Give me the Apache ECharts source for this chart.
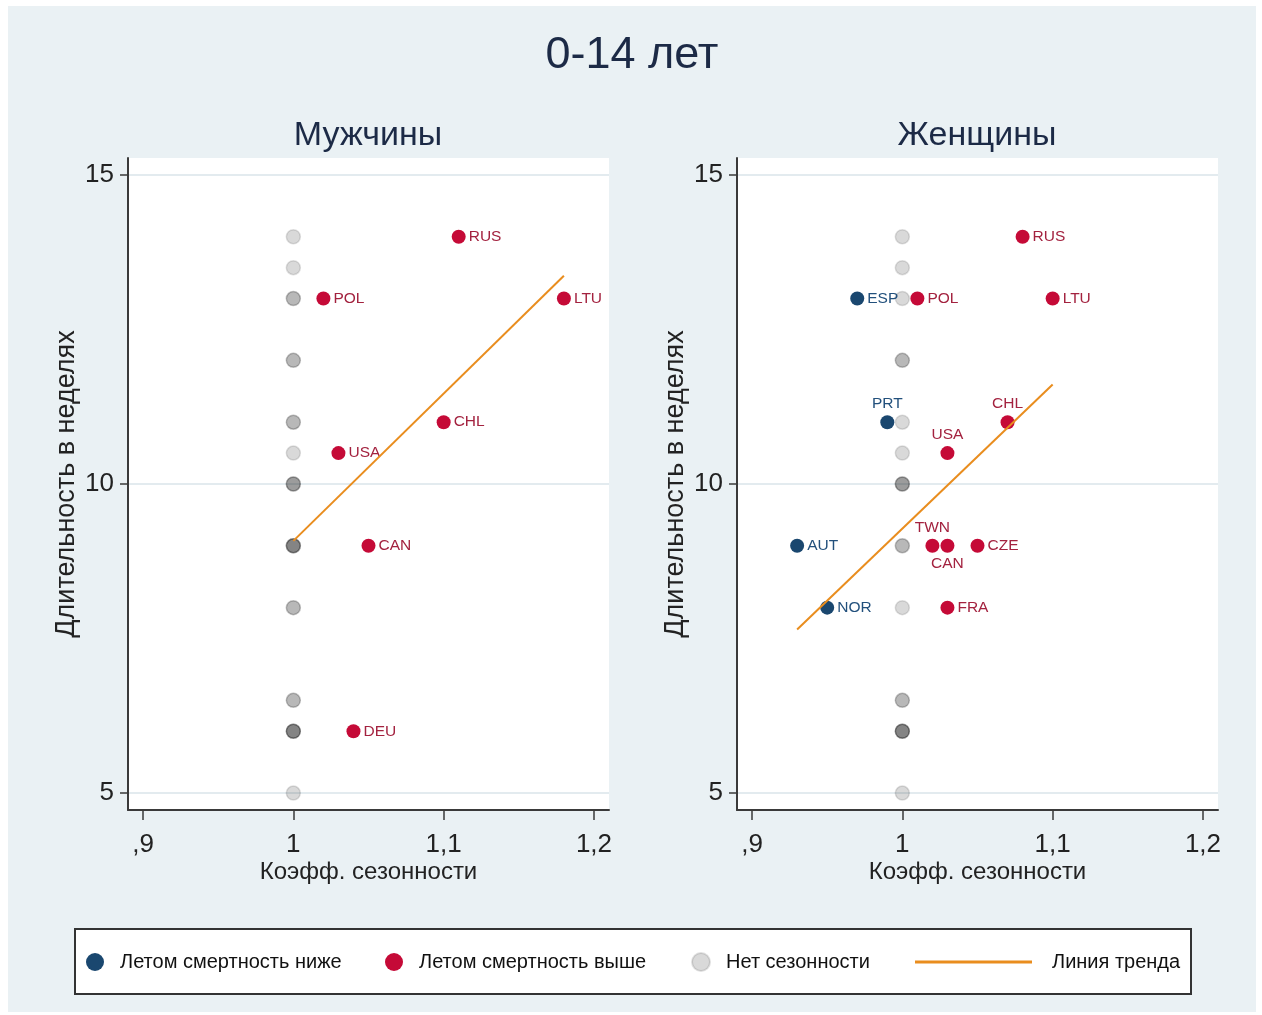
<!DOCTYPE html>
<html>
<head>
<meta charset="utf-8">
<script src="https://cdn.jsdelivr.net/npm/echarts@6/dist/echarts.min.js"></script>
<style>
  html, body { margin: 0; padding: 0; background: #ffffff; }
  #chart { width: 1262px; height: 1015px; }
</style>
</head>
<body>
<div id="chart"></div>
<script>
// Tick values and their printed labels (decimal comma, leading zero dropped)
const xTickValues = [0.9, 1.0, 1.1, 1.2];
const xTickLabels = [',9', '1', '1,1', '1,2'];
const yTickValues = [5, 10, 15];
const yTickLabels = ['5', '10', '15'];

// Men: countries with no seasonality (all at coefficient 1; repeats overlap)
const menNoneY = [14, 13.5, 13, 13, 12, 12, 11, 11, 10.5, 10, 10, 10, 9, 9, 9, 9, 8, 8, 6.5, 6.5, 6, 6, 6, 6, 5];
// Men: higher summer mortality
const menHighNames = ['RUS', 'POL', 'LTU', 'CHL', 'USA', 'CAN', 'DEU'];
const menHighX = [1.11, 1.02, 1.18, 1.10, 1.03, 1.05, 1.04];
const menHighY = [14, 13, 13, 11, 10.5, 9, 6];
// Men: trend line end points
const menTrendX = [1.0, 1.18];
const menTrendY = [9.08, 13.37];

// Women: no seasonality
const womenNoneY = [14, 13.5, 13, 12, 12, 11, 10.5, 10, 10, 10, 9, 9, 8, 6.5, 6.5, 6, 6, 6, 6, 5];
// Women: lower summer mortality
const womenLowNames = ['ESP', 'PRT', 'AUT', 'NOR'];
const womenLowX = [0.97, 0.99, 0.93, 0.95];
const womenLowY = [13, 11, 9, 8];
const womenLowPos = ['right', 'top', 'right', 'right'];
// Women: higher summer mortality
const womenHighNames = ['RUS', 'POL', 'LTU', 'CHL', 'USA', 'TWN', 'CAN', 'CZE', 'FRA'];
const womenHighX = [1.08, 1.01, 1.10, 1.07, 1.03, 1.02, 1.03, 1.05, 1.03];
const womenHighY = [14, 13, 13, 11, 10.5, 9, 9, 9, 8];
const womenHighPos = ['right', 'right', 'right', 'top', 'top', 'top', 'bottom', 'right', 'right'];
// Women: trend line end points
const womenTrendX = [0.93, 1.10];
const womenTrendY = [7.645, 11.61];

const LEG_LOW = 'Летом смертность ниже';
const LEG_HIGH = 'Летом смертность выше';
const LEG_NONE = 'Нет сезонности';
const LEG_TREND = 'Линия тренда';

const FONT = '"Liberation Sans Narrow", "Arial Narrow", "Liberation Sans", sans-serif';
const BLUE = '#1a476f';
const RED = '#c50a37';
const RED_TXT = '#a3223f';
const ORANGE = '#e98d1e';
const GREY = 'rgba(0,0,0,0.15)';

function pts(xs, ys, names, pos) {
  return ys.map((y, i) => {
    const d = { value: [xs[i], y] };
    if (names) d.name = names[i];
    if (pos && pos[i] !== 'right') d.label = { position: pos[i] };
    return d;
  });
}

function xAxis(gridIndex) {
  return {
    type: 'value', gridIndex, min: 0.89, max: 1.21,
    name: 'Коэфф. сезонности', nameLocation: 'middle', nameGap: 50, nameMoveOverlap: false,
    nameTextStyle: { fontFamily: FONT, fontSize: 24, color: '#222' },
    axisLine: { show: true, onZero: false, lineStyle: { color: '#3a3a3a', width: 2 } },
    axisTick: { show: true, length: 10, customValues: xTickValues, lineStyle: { color: '#3a3a3a', width: 1.5 } },
    axisLabel: {
      customValues: xTickValues, margin: 22, fontFamily: FONT, fontSize: 26, color: '#222',
      formatter: v => xTickLabels[xTickValues.findIndex(t => Math.abs(t - v) < 1e-6)]
    },
    splitLine: { show: false }
  };
}

function yAxis(gridIndex) {
  return {
    type: 'value', gridIndex, min: 4.726, max: 15.274,
    name: 'Длительность в неделях', nameLocation: 'middle', nameGap: 48,
    nameTextStyle: { fontFamily: FONT, fontSize: 27, color: '#222' },
    axisLine: { show: true, onZero: false, lineStyle: { color: '#3a3a3a', width: 2 } },
    axisTick: { show: true, length: 8, customValues: yTickValues, lineStyle: { color: '#3a3a3a', width: 1.5 } },
    axisLabel: {
      customValues: yTickValues, margin: 14, fontFamily: FONT, fontSize: 26, color: '#222',
      formatter: v => yTickLabels[yTickValues.findIndex(t => Math.abs(t - v) < 1e-6)]
    },
    splitLine: { show: true, lineStyle: { color: '#e3ebef', width: 2 } }
  };
}

function scatter(name, idx, data, color, labelColor, withLabel) {
  return {
    type: 'scatter', name, xAxisIndex: idx, yAxisIndex: idx,
    data, symbolSize: 14, z: 3,
    itemStyle: color === GREY
      ? { color: GREY, borderColor: 'rgba(0,0,0,0.12)', borderWidth: 1.5, opacity: 1 }
      : { color, opacity: 1 },
    label: withLabel ? {
      show: true, position: 'right', distance: 3, formatter: '{b}',
      fontFamily: FONT, fontSize: 15.5, color: labelColor
    } : { show: false },
    emphasis: { disabled: true }, silent: true
  };
}

function trend(idx, xs, ys) {
  return {
    type: 'line', name: LEG_TREND, xAxisIndex: idx, yAxisIndex: idx,
    data: xs.map((x, i) => [x, ys[i]]),
    showSymbol: false, symbol: 'none', color: ORANGE, z: 5,
    lineStyle: { color: ORANGE, width: 2 },
    emphasis: { disabled: true }, silent: true
  };
}

const ones = ys => ys.map(() => 1);

function legend(name, left, top, w, h, icon, pad) {
  return {
    data: [{ name, icon }], left, top, padding: 0,
    itemWidth: w, itemHeight: h, selectedMode: false,
    textStyle: { fontFamily: FONT, fontSize: 20, color: '#111', padding: pad || 0 }
  };
}

const chart = echarts.init(document.getElementById('chart'), null, { renderer: 'canvas' });
chart.setOption({
  animation: false,
  backgroundColor: '#ffffff',
  graphic: [
    { type: 'rect', z: -10, shape: { x: 8, y: 6, width: 1248, height: 1006 }, style: { fill: '#eaf1f4' } },
    { type: 'text', z: 10, x: 632, y: 56, style: { text: '0-14 лет', fontFamily: FONT, fontSize: 45, fill: '#1c2a46', align: 'center', verticalAlign: 'middle' } },
    { type: 'text', z: 10, x: 368, y: 136, style: { text: 'Мужчины', fontFamily: FONT, fontSize: 34, fill: '#1c2a46', align: 'center', verticalAlign: 'middle' } },
    { type: 'text', z: 10, x: 977, y: 136, style: { text: 'Женщины', fontFamily: FONT, fontSize: 34, fill: '#1c2a46', align: 'center', verticalAlign: 'middle' } },
    { type: 'rect', z: -5, shape: { x: 75, y: 929, width: 1116, height: 65 }, style: { fill: '#ffffff', stroke: '#333333', lineWidth: 2 } }
  ],
  grid: [
    { left: 128, top: 158, width: 481, height: 652, show: true, backgroundColor: '#ffffff', borderWidth: 0 },
    { left: 737, top: 158, width: 481, height: 652, show: true, backgroundColor: '#ffffff', borderWidth: 0 }
  ],
  xAxis: [xAxis(0), xAxis(1)],
  yAxis: [yAxis(0), yAxis(1)],
  legend: [
    legend(LEG_LOW, 86, 952, 40, 18, 'circle'),
    legend(LEG_HIGH, 385, 952, 40, 18, 'circle'),
    legend(LEG_NONE, 691, 952, 40, 18, 'circle'),
    legend(LEG_TREND, 915, 952, 117, 3, 'rect', [0, 0, 0, 15])
  ],
  series: [
    scatter(LEG_NONE, 0, pts(ones(menNoneY), menNoneY), GREY, null, false),
    scatter(LEG_HIGH, 0, pts(menHighX, menHighY, menHighNames), RED, RED_TXT, true),
    trend(0, menTrendX, menTrendY),
    scatter(LEG_NONE, 1, pts(ones(womenNoneY), womenNoneY), GREY, null, false),
    scatter(LEG_LOW, 1, pts(womenLowX, womenLowY, womenLowNames, womenLowPos), BLUE, '#22507c', true),
    scatter(LEG_HIGH, 1, pts(womenHighX, womenHighY, womenHighNames, womenHighPos), RED, RED_TXT, true),
    trend(1, womenTrendX, womenTrendY)
  ]
});
</script>
</body>
</html>
